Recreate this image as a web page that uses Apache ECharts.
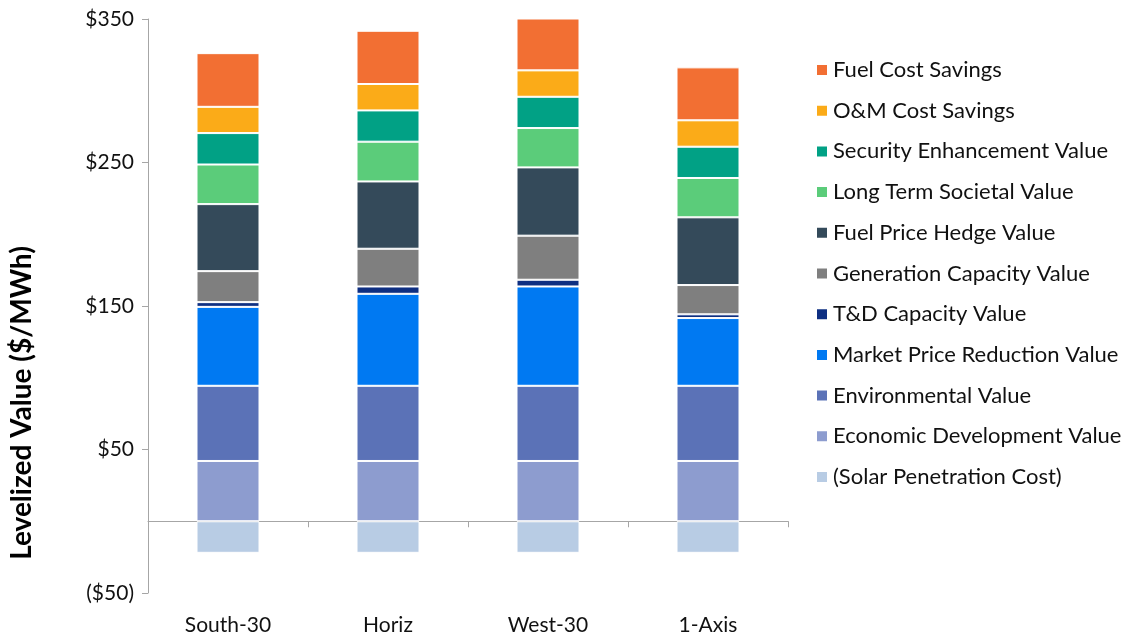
<!DOCTYPE html>
<html>
<head>
<meta charset="utf-8">
<script src="https://cdn.jsdelivr.net/npm/echarts@6/dist/echarts.min.js"></script>
<style>
  html, body { margin: 0; padding: 0; background: #fff; }
  #chart { width: 1134px; height: 640px; }
</style>
</head>
<body>
<div id="chart"></div>
<script>
// categories and y ticks
const categories = ['South-30', 'Horiz', 'West-30', '1-Axis'];
const yTicks = [-50, 50, 150, 250, 350];

// series values, bottom of the stack first
const solarPenetration = [-22, -22, -22, -22];
const economicDev = [42, 42, 42, 42];
const environmental = [52.4, 52.4, 52.4, 52.4];
const marketPrice = [55, 64.1, 69.2, 47.2];
const tdCapacity = [3.3, 5.1, 4.7, 2.6];
const genCapacity = [21.6, 26.3, 30.7, 20.4];
const fuelHedge = [46.7, 46.9, 47.6, 47.2];
const longTerm = [27.6, 27.7, 27.4, 27.4];
const security = [21.9, 21.8, 21.8, 21.8];
const omSavings = [18.3, 18.4, 18.4, 18.4];
const fuelSavings = [37.4, 37.1, 36.2, 36.9];

const seriesDefs = [
  ['(Solar Penetration Cost)', solarPenetration, '#b8cce4'],
  ['Economic Development Value', economicDev, '#8d9ccf'],
  ['Environmental Value', environmental, '#5b72b7'],
  ['Market Price Reduction Value', marketPrice, '#0079f2'],
  ['T&D Capacity Value', tdCapacity, '#0e2f82'],
  ['Generation Capacity Value', genCapacity, '#7f7f7f'],
  ['Fuel Price Hedge Value', fuelHedge, '#344a5a'],
  ['Long Term Societal Value', longTerm, '#5bcc7a'],
  ['Security Enhancement Value', security, '#01a185'],
  ['O&M Cost Savings', omSavings, '#fbab18'],
  ['Fuel Cost Savings', fuelSavings, '#f26f33']
];

const fontFam = 'Lato, "Open Sans", sans-serif';

let myChart = echarts.init(document.getElementById('chart'));

let option = {
  animation: false,
  grid: { left: 148, top: 19, width: 640, bottom: 47, containLabel: false, outerBoundsMode: 'none' },
  legend: {
    orient: 'vertical',
    left: 810,
    top: 54,
    icon: 'rect',
    itemWidth: 12,
    itemHeight: 12,
    itemGap: 18.7,
    data: seriesDefs.map(s => s[0]).reverse(),
    textStyle: { fontFamily: fontFam, fontSize: 22, color: '#111', lineHeight: 22 }
  },
  xAxis: {
    type: 'category',
    data: categories,
    axisLine: { onZero: true, lineStyle: { color: '#a6a6a6' } },
    axisTick: { show: true, length: 6, lineStyle: { color: '#a6a6a6' } },
    axisLabel: { margin: 22, fontFamily: fontFam, fontSize: 21, color: '#111' }
  },
  yAxis: {
    type: 'value',
    min: yTicks[0],
    max: yTicks[yTicks.length - 1],
    interval: 100,
    splitLine: { show: false },
    axisLine: { show: true, lineStyle: { color: '#a6a6a6' } },
    axisTick: { show: true, length: 6, lineStyle: { color: '#a6a6a6' } },
    axisLabel: {
      margin: 14,
      fontFamily: fontFam,
      fontSize: 21,
      color: '#111',
      formatter: v => v < 0 ? '($' + Math.abs(v) + ')' : '$' + v
    }
  },
  graphic: [{
    type: 'text',
    x: 22,
    y: 403,
    rotation: Math.PI / 2,
    style: {
      text: 'Levelized Value ($/MWh)',
      fontFamily: fontFam,
      fontSize: 28,
      fontWeight: 'bold',
      fill: '#000',
      align: 'center',
      verticalAlign: 'middle'
    }
  }],
  series: seriesDefs.map(([name, data, color]) => ({
    name: name,
    type: 'bar',
    stack: 'total',
    barWidth: 63,
    data: data,
    itemStyle: { color: color, borderColor: '#ffffff', borderWidth: 1 }
  }))
};

myChart.setOption(option);
</script>
</body>
</html>
